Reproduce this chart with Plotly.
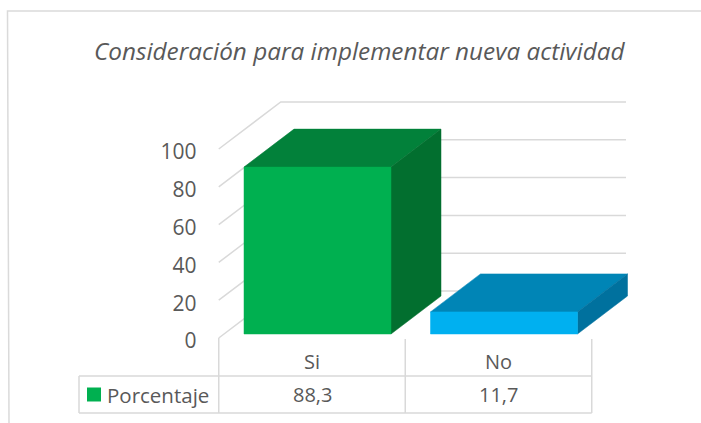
import plotly.graph_objects as go

# ---- data ----
title_text = "Consideración para implementar nueva actividad"
categories = ["Si", "No"]
category_labels = ["Si", "No"]
table_values = ["88,3", "11,7"]
values = [88.3, 11.7]
y_ticks = [0, 20, 40, 60, 80, 100]
series_name = "Porcentaje"

# ---- style ----
front_colors = ["#00B050", "#00B0F0"]
top_colors = ["#02813A", "#0085B6"]
side_colors = ["#026F2F", "#00719E"]
grid_color = "#D9D9D9"
text_color = "#595959"
font_family = "Open Sans"

# ---- geometry (pixels mapped on to the axis units) ----
W, H = 701, 423
CAT_PX = 186.5
CAT0_PX = 312.0
VAL_PX = 1.89
ZERO_PX = 338.0


def dx(px):
    return px / CAT_PX


def dy(px):
    return px / VAL_PX


def px_x(px):
    return (px - CAT0_PX) / CAT_PX


def px_y(px):
    return (ZERO_PX - px) / VAL_PX


wall_dx, wall_dy = dx(62), dy(47)
wall_right = px_x(626)
bar_w = dx(147)
front_dx, front_dy = dx(5.5), dy(4)
depth_dx, depth_dy = dx(50), dy(38)
left = -0.5

fig = go.Figure()


def poly(xs, ys, color):
    fig.add_trace(go.Scatter(x=xs + xs[:1], y=ys + ys[:1], mode="lines", fill="toself",
                             fillcolor=color, line=dict(color=color, width=0.5),
                             hoverinfo="skip", showlegend=False, cliponaxis=False))


for v in y_ticks:
    fig.add_trace(go.Scatter(x=[left, left + wall_dx, wall_right],
                             y=[v, v + wall_dy, v + wall_dy], mode="lines",
                             line=dict(color=grid_color, width=1.5),
                             hoverinfo="skip", showlegend=False, cliponaxis=False))

for i, v in enumerate(values):
    x0 = i - bar_w / 2 + front_dx
    x1 = x0 + bar_w
    y0 = front_dy
    y1 = y0 + v
    poly([x0, x1, x1 + depth_dx, x0 + depth_dx], [y1, y1, y1 + depth_dy, y1 + depth_dy], top_colors[i])
    poly([x1, x1 + depth_dx, x1 + depth_dx, x1], [y0, y0 + depth_dy, y1 + depth_dy, y1], side_colors[i])
    poly([x0, x1, x1, x0], [y0, y0, y1, y1], front_colors[i])

# data-table rules
row_top = px_y(376)
row_bot = px_y(413)
table_left = px_x(79)
table_right = 1.5
axis_bot = px_y(339)
rules = [
    ([left, left], [0, row_bot]),
    ([0.5, 0.5], [axis_bot, row_bot]),
    ([table_right, table_right], [axis_bot, row_bot]),
    ([table_left, table_right], [row_top, row_top]),
    ([table_left, table_right], [row_bot, row_bot]),
    ([table_left, table_left], [row_top, row_bot]),
]
for xs, ys in rules:
    fig.add_trace(go.Scatter(x=xs, y=ys, mode="lines", line=dict(color=grid_color, width=1.5),
                             hoverinfo="skip", showlegend=False, cliponaxis=False))

# legend key in the table
fig.add_trace(go.Scatter(x=[px_x(94)], y=[px_y(394.5)], mode="markers",
                         marker=dict(symbol="square", size=14, color=front_colors[0]),
                         hoverinfo="skip", showlegend=False, cliponaxis=False))

annotations = [
    dict(x=i, y=px_y(394.5), xref="x", yref="y", text=t, showarrow=False,
         font=dict(family=font_family, size=20, color=text_color))
    for i, t in enumerate(table_values)
]
annotations.append(dict(x=px_x(105), y=px_y(394.5), xref="x", yref="y", text=series_name,
                        showarrow=False, xanchor="left",
                        font=dict(family=font_family, size=20.5, color=text_color)))
annotations.append(dict(x=359.5 / W, y=1 - 51 / H, xref="paper", yref="paper", yanchor="middle",
                        text="<i>" + title_text + "</i>", showarrow=False,
                        font=dict(family=font_family, size=24.3, color=text_color)))

border = dict(type="path", xref="paper", yref="paper",
              path=f"M {9/W} 0 L {7.5/W} {1-11/H} L 1 {1-11/H}",
              line=dict(color="#DADADA", width=1.5))

fig.update_layout(
    width=W, height=H, margin=dict(l=0, r=0, t=0, b=0, pad=0),
    paper_bgcolor="white", plot_bgcolor="rgba(0,0,0,0)",
    showlegend=False, annotations=annotations, shapes=[border],
    xaxis=dict(range=[px_x(0), px_x(W)], domain=[0, 1], tickmode="array", tickvals=[0, 1],
               ticktext=category_labels, showgrid=False, zeroline=False, showline=False,
               ticks="", anchor="free", position=(H - ZERO_PX) / H, ticklabelstandoff=10,
               tickfont=dict(family=font_family, size=20, color=text_color), automargin=False),
    yaxis=dict(range=[px_y(H), px_y(0)], domain=[0, 1], tickmode="array", tickvals=y_ticks,
               showgrid=False, zeroline=False, showline=False, ticks="", anchor="free",
               position=218.5 / W, ticklabelstandoff=22, ticklabelshift=3,
               tickfont=dict(family=font_family, size=21, color=text_color), automargin=False),
)

fig.write_html("out.html", post_script="document.body.style.margin='0';",
               config={"displayModeBar": False})
